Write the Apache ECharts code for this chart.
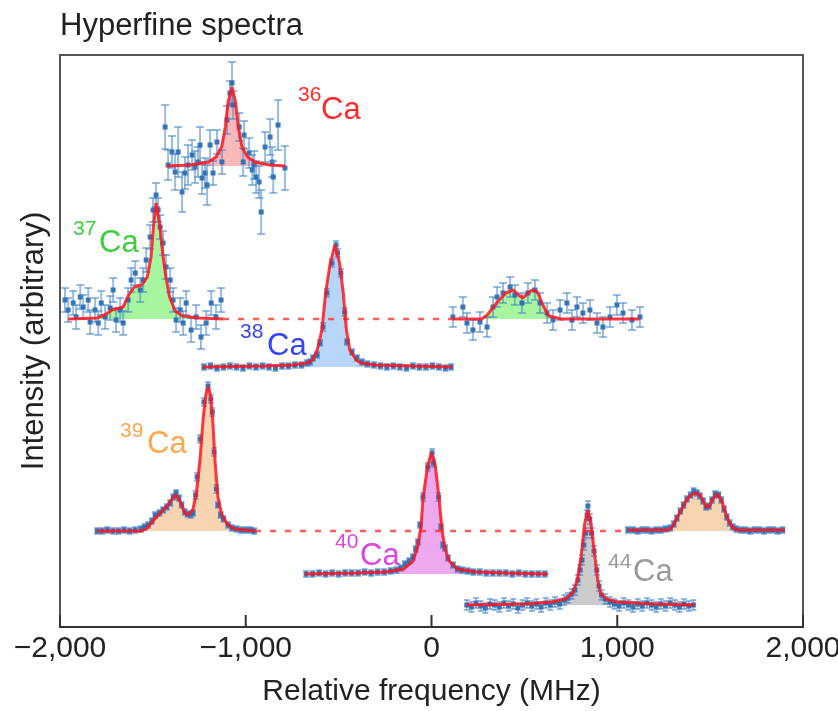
<!DOCTYPE html>
<html>
<head>
<meta charset="utf-8">
<script src="https://cdn.jsdelivr.net/npm/echarts@6/dist/echarts.min.js"></script>
<style>
  html, body { margin: 0; padding: 0; background: #fff; }
  #main { width: 838px; height: 711px; }
</style>
</head>
<body>
<div id="main"></div>
<script>
// x: relative frequency (MHz), y: intensity (arbitrary, offset per isotope), e: error bar half-length

var xTicks = [-2000, -1000, 0, 1000, 2000];

// ---- 36Ca
var ca36Base = 461;
var ca36Fit = [[-1423,461],[-1300,462],[-1200,465],[-1160,470],[-1130,480],[-1110,500],[-1095,525],[-1074,540],
  [-1055,525],[-1040,500],[-1020,480],[-990,470],[-950,465],[-870,462],[-789,461]];
var ca36Pts = [[-1434,500,22],[-1418,462,15],[-1397,475,16],[-1380,455,18],[-1364,475,25],[-1343,435,20],[-1327,454,16],
  [-1311,462,20],[-1289,472,15],[-1273,460,16],[-1257,465,15],[-1246,482,18],[-1235,449,16],[-1219,454,15],
  [-1208,442,20],[-1192,482,15],[-1176,454,12],[-1155,485,12],[-1128,465,12],[-1101,507,14],[-1085,534,12],
  [-1074,544,21],[-1068,522,14],[-1035,500,14],[-1014,465,14],[-1009,492,14],[-982,474,15],[-965,457,15],
  [-955,462,14],[-944,450,16],[-928,445,16],[-917,415,22],[-896,480,15],[-869,490,18],[-858,465,15],
  [-852,450,16],[-826,502,25],[-789,459,22]];

// ---- 37Ca
var ca37Base = 308;
var ca37FitL = [[-1956,308],[-1800,309],[-1760,312],[-1720,317],[-1660,320],[-1630,332],[-1600,340],[-1560,342],
  [-1530,350],[-1510,370],[-1497,400],[-1483,424],[-1465,405],[-1448,375],[-1430,350],[-1410,330],[-1380,316],
  [-1340,311],[-1250,309],[-1122,308]];
var ca37FitR = [[115,308],[270,308],[300,312],[350,324],[400,334],[440,337],[470,332],[490,329],[510,332],
  [540,337],[570,335],[600,322],[630,311],[700,308],[1120,308]];
var ca37Gap = [[-1122,308],[115,308]];
var ca37Pts = [[-1973,327,12],[-1956,317,12],[-1929,324,12],[-1913,310,12],[-1891,330,12],[-1875,320,12],
  [-1848,327,12],[-1838,305,12],[-1811,317,12],[-1794,304,12],[-1778,324,12],[-1757,310,12],[-1730,319,12],
  [-1714,337,12],[-1698,307,12],[-1676,317,12],[-1660,304,12],[-1633,327,12],[-1617,347,12],[-1595,354,12],
  [-1568,337,12],[-1552,347,12],[-1536,367,12],[-1515,390,12],[-1499,417,12],[-1483,432,12],[-1472,417,12],
  [-1461,400,12],[-1445,384,12],[-1429,360,12],[-1407,347,12],[-1391,327,12],[-1375,307,12],[-1353,317,12],
  [-1337,304,12],[-1321,324,12],[-1294,297,12],[-1267,310,12],[-1241,290,12],[-1213,304,12],[-1186,324,12],
  [-1160,310,12],[-1133,327,12],
  [115,310,10],[169,320,10],[191,304,10],[223,297,10],[261,305,10],[299,300,10],[331,320,10],[353,330,10],
  [385,334,10],[423,340,10],[449,332,10],[487,324,10],[519,334,10],[557,337,10],[584,324,10],[622,314,10],
  [654,307,10],[692,317,10],[729,324,10],[756,307,10],[783,320,10],[815,314,10],[853,317,10],[891,304,10],
  [923,300,10],[961,310,10],[998,322,10],[1031,314,10],[1079,307,10],[1122,310,10]];

// ---- 38Ca
var ca38Base = 260;
var ca38Fit = [[-1230,260],[-900,261],[-750,262],[-670,264],[-640,267],[-615,277],[-590,297],[-570,334],
  [-545,364],[-520,382],[-495,364],[-475,334],[-458,297],[-440,277],[-405,267],[-380,264],[-300,262],
  [-100,261],[110,260]];
var ca38Pts = [[-1225,260,3],[-1190,261,3],[-1155,259,3],[-1120,260,3],[-1085,261,3],[-1050,260,3],[-1015,259,3],
  [-980,261,3],[-945,260,3],[-910,261,3],[-875,260,3],[-840,259,3],[-805,261,3],[-770,261,3],[-735,262,3],
  [-700,262,3],[-670,264,3],[-654,265,3],[-638,269,3],[-616,272,3],[-600,284,3],[-584,300,4],[-563,334,4],
  [-536,364,4],[-514,382,4],[-505,374,4],[-488,354,4],[-467,315,4],[-455,285,3],[-428,275,3],[-401,269,3],
  [-374,265,3],[-345,263,3],[-310,262,3],[-275,261,3],[-240,260,3],[-205,261,3],[-170,260,3],[-135,259,3],
  [-100,261,3],[-65,260,3],[-30,260,3],[5,261,3],[40,260,3],[75,259,3],[105,260,3]];

// ---- 39Ca
var ca39Base = 96;
var ca39FitL = [[-1800,96],[-1560,96],[-1530,99],[-1500,106],[-1460,114],[-1420,122],[-1390,130],[-1375,132],
  [-1355,126],[-1330,115],[-1311,112],[-1285,117],[-1265,135],[-1245,170],[-1230,207],[-1215,232],[-1203,240],
  [-1190,232],[-1178,207],[-1165,165],[-1150,130],[-1130,113],[-1100,103],[-1060,98],[-950,96]];
var ca39FitR = [[1058,97],[1280,97],[1300,101],[1321,109],[1345,117],[1364,124],[1385,130],[1410,133],[1429,134],
  [1445,132],[1460,127],[1483,119],[1500,122],[1515,128],[1537,133],[1555,129],[1570,122],[1586,112],
  [1605,104],[1625,99],[1650,97],[1903,97]];
var ca39Gap = [[-950,96],[1058,96]];
var ca39Pts = [[-1800,96,3],[-1773,96,3],[-1745,97,3],[-1715,96,3],[-1685,96,3],[-1655,97,3],[-1625,96,3],
  [-1595,97,3],[-1565,98,3],[-1545,100,3],[-1526,102,3],[-1505,106,3],[-1488,112,3],[-1465,114,3],[-1445,117,3],
  [-1425,120,3],[-1407,124,3],[-1390,130,3],[-1375,134,3],[-1360,129,3],[-1345,122,3],[-1328,115,3],
  [-1313,113,3],[-1296,112,3],[-1284,114,3],[-1270,132,4],[-1262,150,4],[-1246,188,4],[-1225,225,4],
  [-1203,241,4],[-1188,228,4],[-1180,215,4],[-1170,175,4],[-1158,138,4],[-1150,122,3],[-1135,112,3],
  [-1120,108,3],[-1095,102,3],[-1075,99,3],[-1050,98,3],[-1025,97,3],[-1000,97,3],[-975,97,3],[-955,96,3],
  [1058,97,3],[1085,97,3],[1110,96,3],[1135,97,3],[1160,97,3],[1185,96,3],[1210,97,3],[1235,97,3],[1260,98,3],
  [1285,99,3],[1305,103,3],[1321,109,3],[1340,116,3],[1357,122,3],[1375,128,3],[1395,132,3],[1412,136,3],
  [1429,134,3],[1445,131,3],[1462,126,3],[1478,120,3],[1494,121,3],[1510,127,3],[1527,133,3],[1545,132,3],
  [1560,127,3],[1575,118,3],[1590,110,3],[1605,104,3],[1622,100,3],[1640,98,3],[1665,97,3],[1690,97,3],
  [1715,96,3],[1740,97,3],[1765,97,3],[1790,96,3],[1815,97,3],[1840,97,3],[1865,96,3],[1890,97,3]];

// ---- 40Ca
var ca40Base = 53;
var ca40Fit = [[-681,53],[-400,54],[-250,55],[-150,58],[-100,66],[-75,80],[-57,100],[-45,130],[-20,162],[0,174],
  [20,162],[40,130],[55,100],[70,80],[95,66],[140,58],[250,55],[400,54],[627,53]];
var ca40Pts = [[-675,53,3],[-640,53,3],[-605,54,3],[-570,53,3],[-535,54,3],[-500,53,3],[-465,54,3],[-430,54,3],
  [-395,54,3],[-360,55,3],[-325,54,3],[-290,55,3],[-255,55,3],[-220,56,3],[-190,57,3],[-165,59,3],[-143,63,3],
  [-120,66,3],[-100,70,3],[-85,78,3],[-73,85,3],[-62,102,3],[-46,130,4],[-20,160,4],[3,174,4],[10,164,4],
  [38,130,4],[51,100,3],[62,82,3],[73,79,3],[89,69,3],[116,62,3],[140,58,3],[165,57,3],[195,56,3],[225,55,3],
  [260,55,3],[295,54,3],[330,54,3],[365,54,3],[400,54,3],[435,53,3],[470,54,3],[505,53,3],[540,53,3],
  [575,53,3],[610,53,3]];

// ---- 44Ca
var ca44Base = 22;
var ca44Fit = [[186,22],[500,23],[650,25],[720,28],[760,34],[785,47],[805,70],[825,104],[842,117],[858,104],
  [880,70],[895,47],[910,34],[940,28],[1000,25],[1200,23],[1418,22]];
var ca44Pts = [[190,22,5],[215,20,5],[240,24,5],[265,21,5],[290,19,5],[315,23,5],[340,22,5],[365,20,5],[390,24,5],
  [415,21,5],[440,23,5],[465,19,5],[490,22,5],[515,24,5],[540,21,5],[565,23,5],[590,20,5],[615,24,5],[640,22,5],
  [665,25,5],[690,23,5],[715,27,5],[735,29,5],[755,33,5],[772,37,5],[788,47,5],[800,57,5],[810,67,5],[820,82,5],
  [830,94,5],[838,112,5],[842,121,5],[852,108,5],[862,94,5],[875,76,5],[890,57,5],[902,41,5],[915,32,5],
  [935,28,5],[960,25,5],[985,23,5],[1010,21,5],[1035,24,5],[1060,22,5],[1085,20,5],[1110,23,5],[1135,21,5],
  [1160,24,5],[1185,22,5],[1210,20,5],[1235,23,5],[1260,21,5],[1285,24,5],[1310,22,5],[1335,20,5],[1360,23,5],
  [1385,21,5],[1410,22,5]];

var FONT = '"Liberation Sans", Arial, Helvetica, sans-serif';
var FIT_RED = 'rgba(255,20,30,0.85)';

function fmtTick(v) {
  var s = Math.abs(v).toString().replace(/\B(?=(\d{3})+(?!\d))/g, ',');
  return v < 0 ? '\u2212' + s : s;
}

function areaSeries(data, base, color) {
  return {
    type: 'line', data: data, symbol: 'none', silent: true, z: 1,
    lineStyle: { width: 0 },
    areaStyle: { color: color, opacity: 1, origin: base }
  };
}
function fitSeries(data) {
  return {
    type: 'line', data: data, symbol: 'none', silent: true, z: 4,
    lineStyle: { color: FIT_RED, width: 3 }
  };
}
function gapSeries(data) {
  return {
    type: 'line', data: data, symbol: 'none', silent: true, z: 4,
    lineStyle: { color: 'rgba(255,50,50,0.8)', width: 2.5, type: [6, 9] }
  };
}
function pointSeries(data, cap) {
  return {
    type: 'custom', data: data, z: 3, silent: true,
    renderItem: function (params, api) {
      var x = api.value(0), y = api.value(1), e = api.value(2);
      var c = api.coord([x, y]);
      var t = api.coord([x, y + e]);
      var b = api.coord([x, y - e]);
      var ec = 'rgba(70,135,200,0.55)';
      return {
        type: 'group',
        children: [
          { type: 'line', shape: { x1: c[0], y1: t[1], x2: c[0], y2: b[1] }, style: { stroke: ec, lineWidth: 2 } },
          { type: 'line', shape: { x1: c[0] - cap, y1: t[1], x2: c[0] + cap, y2: t[1] }, style: { stroke: ec, lineWidth: 2 } },
          { type: 'line', shape: { x1: c[0] - cap, y1: b[1], x2: c[0] + cap, y2: b[1] }, style: { stroke: ec, lineWidth: 2 } },
          { type: 'rect', shape: { x: c[0] - 2.5, y: c[1] - 2.5, width: 5, height: 5 }, style: { fill: 'rgba(40,105,175,0.9)' } }
        ]
      };
    }
  };
}
// inward tick marks on the frequency axis
function tickSeries(ticks) {
  return {
    type: 'custom', data: ticks.map(function (t) { return [t, 0]; }), z: 6, silent: true, clip: false,
    renderItem: function (params, api) {
      var p = api.coord([api.value(0), 0]);
      return { type: 'line', shape: { x1: p[0], y1: p[1], x2: p[0], y2: p[1] - 12 }, style: { stroke: '#333', lineWidth: 2 } };
    }
  };
}

function isoLabel(mass, x1, x2, yMass, yCa, color) {
  return [
    { type: 'text', left: x1, top: yMass - 11, style: { text: mass, fill: color, font: '21px ' + FONT } },
    { type: 'text', left: x2, top: yCa - 14, style: { text: 'Ca', fill: color, font: '31px ' + FONT } }
  ];
}

var chart = echarts.init(document.getElementById('main'));

var option = {
  animation: false,
  backgroundColor: '#fff',
  title: {
    text: 'Hyperfine spectra', left: 55, top: 6,
    textStyle: { fontFamily: FONT, fontSize: 31, fontWeight: 'normal', color: '#222' }
  },
  grid: {
    left: 60, right: 35, top: 55, bottom: 84, show: true, borderColor: '#555', borderWidth: 2,
    outerBoundsMode: 'none', containLabel: false
  },
  xAxis: {
    type: 'value', min: -2000, max: 2000, interval: 1000,
    name: 'Relative frequency (MHz)', nameLocation: 'middle', nameGap: 50,
    nameTextStyle: { fontFamily: FONT, fontSize: 30, color: '#222' },
    axisLine: { lineStyle: { color: '#333', width: 2 } },
    axisTick: { show: false },
    axisLabel: { formatter: fmtTick, fontFamily: FONT, fontSize: 30, color: '#222', margin: 7 },
    splitLine: { show: false }
  },
  yAxis: {
    type: 'value', min: 0, max: 572,
    name: 'Intensity (arbitrary)', nameLocation: 'middle', nameGap: 10,
    nameTextStyle: { fontFamily: FONT, fontSize: 31, color: '#222' },
    axisLine: { show: false }, axisTick: { show: false }, axisLabel: { show: false }, splitLine: { show: false }
  },
  graphic: [].concat(
    isoLabel('36', 298, 321, 96, 109, '#ff2a2a'),
    isoLabel('37', 73, 99, 230, 242, '#3ccf3c'),
    isoLabel('38', 240, 267, 333, 345, '#3344ff'),
    isoLabel('39', 120, 147, 432, 443, '#ffa64d'),
    isoLabel('40', 335, 360, 543, 555, '#dd44dd'),
    isoLabel('44', 608, 633, 563, 571, '#9a9a9a')
  ),
  series: [
    areaSeries(ca36Fit, ca36Base, '#f9b9b9'),
    areaSeries(ca37FitL, ca37Base, '#a8f5a0'),
    areaSeries(ca37FitR, ca37Base, '#a8f5a0'),
    areaSeries(ca38Fit, ca38Base, '#b8d6f8'),
    areaSeries(ca39FitL, ca39Base, '#f8d4b0'),
    areaSeries(ca39FitR, ca39Base, '#f8d4b0'),
    areaSeries(ca40Fit, ca40Base, '#eea8ee'),
    areaSeries(ca44Fit, ca44Base, '#cccccc'),
    pointSeries(ca36Pts, 4),
    pointSeries(ca37Pts, 4),
    pointSeries(ca38Pts, 3),
    pointSeries(ca39Pts, 3),
    pointSeries(ca40Pts, 3),
    pointSeries(ca44Pts, 3),
    gapSeries(ca37Gap),
    gapSeries(ca39Gap),
    fitSeries(ca36Fit),
    fitSeries(ca37FitL),
    fitSeries(ca37FitR),
    fitSeries(ca38Fit),
    fitSeries(ca39FitL),
    fitSeries(ca39FitR),
    fitSeries(ca40Fit),
    fitSeries(ca44Fit),
    tickSeries(xTicks)
  ]
};
chart.setOption(option);
</script>
</body>
</html>
